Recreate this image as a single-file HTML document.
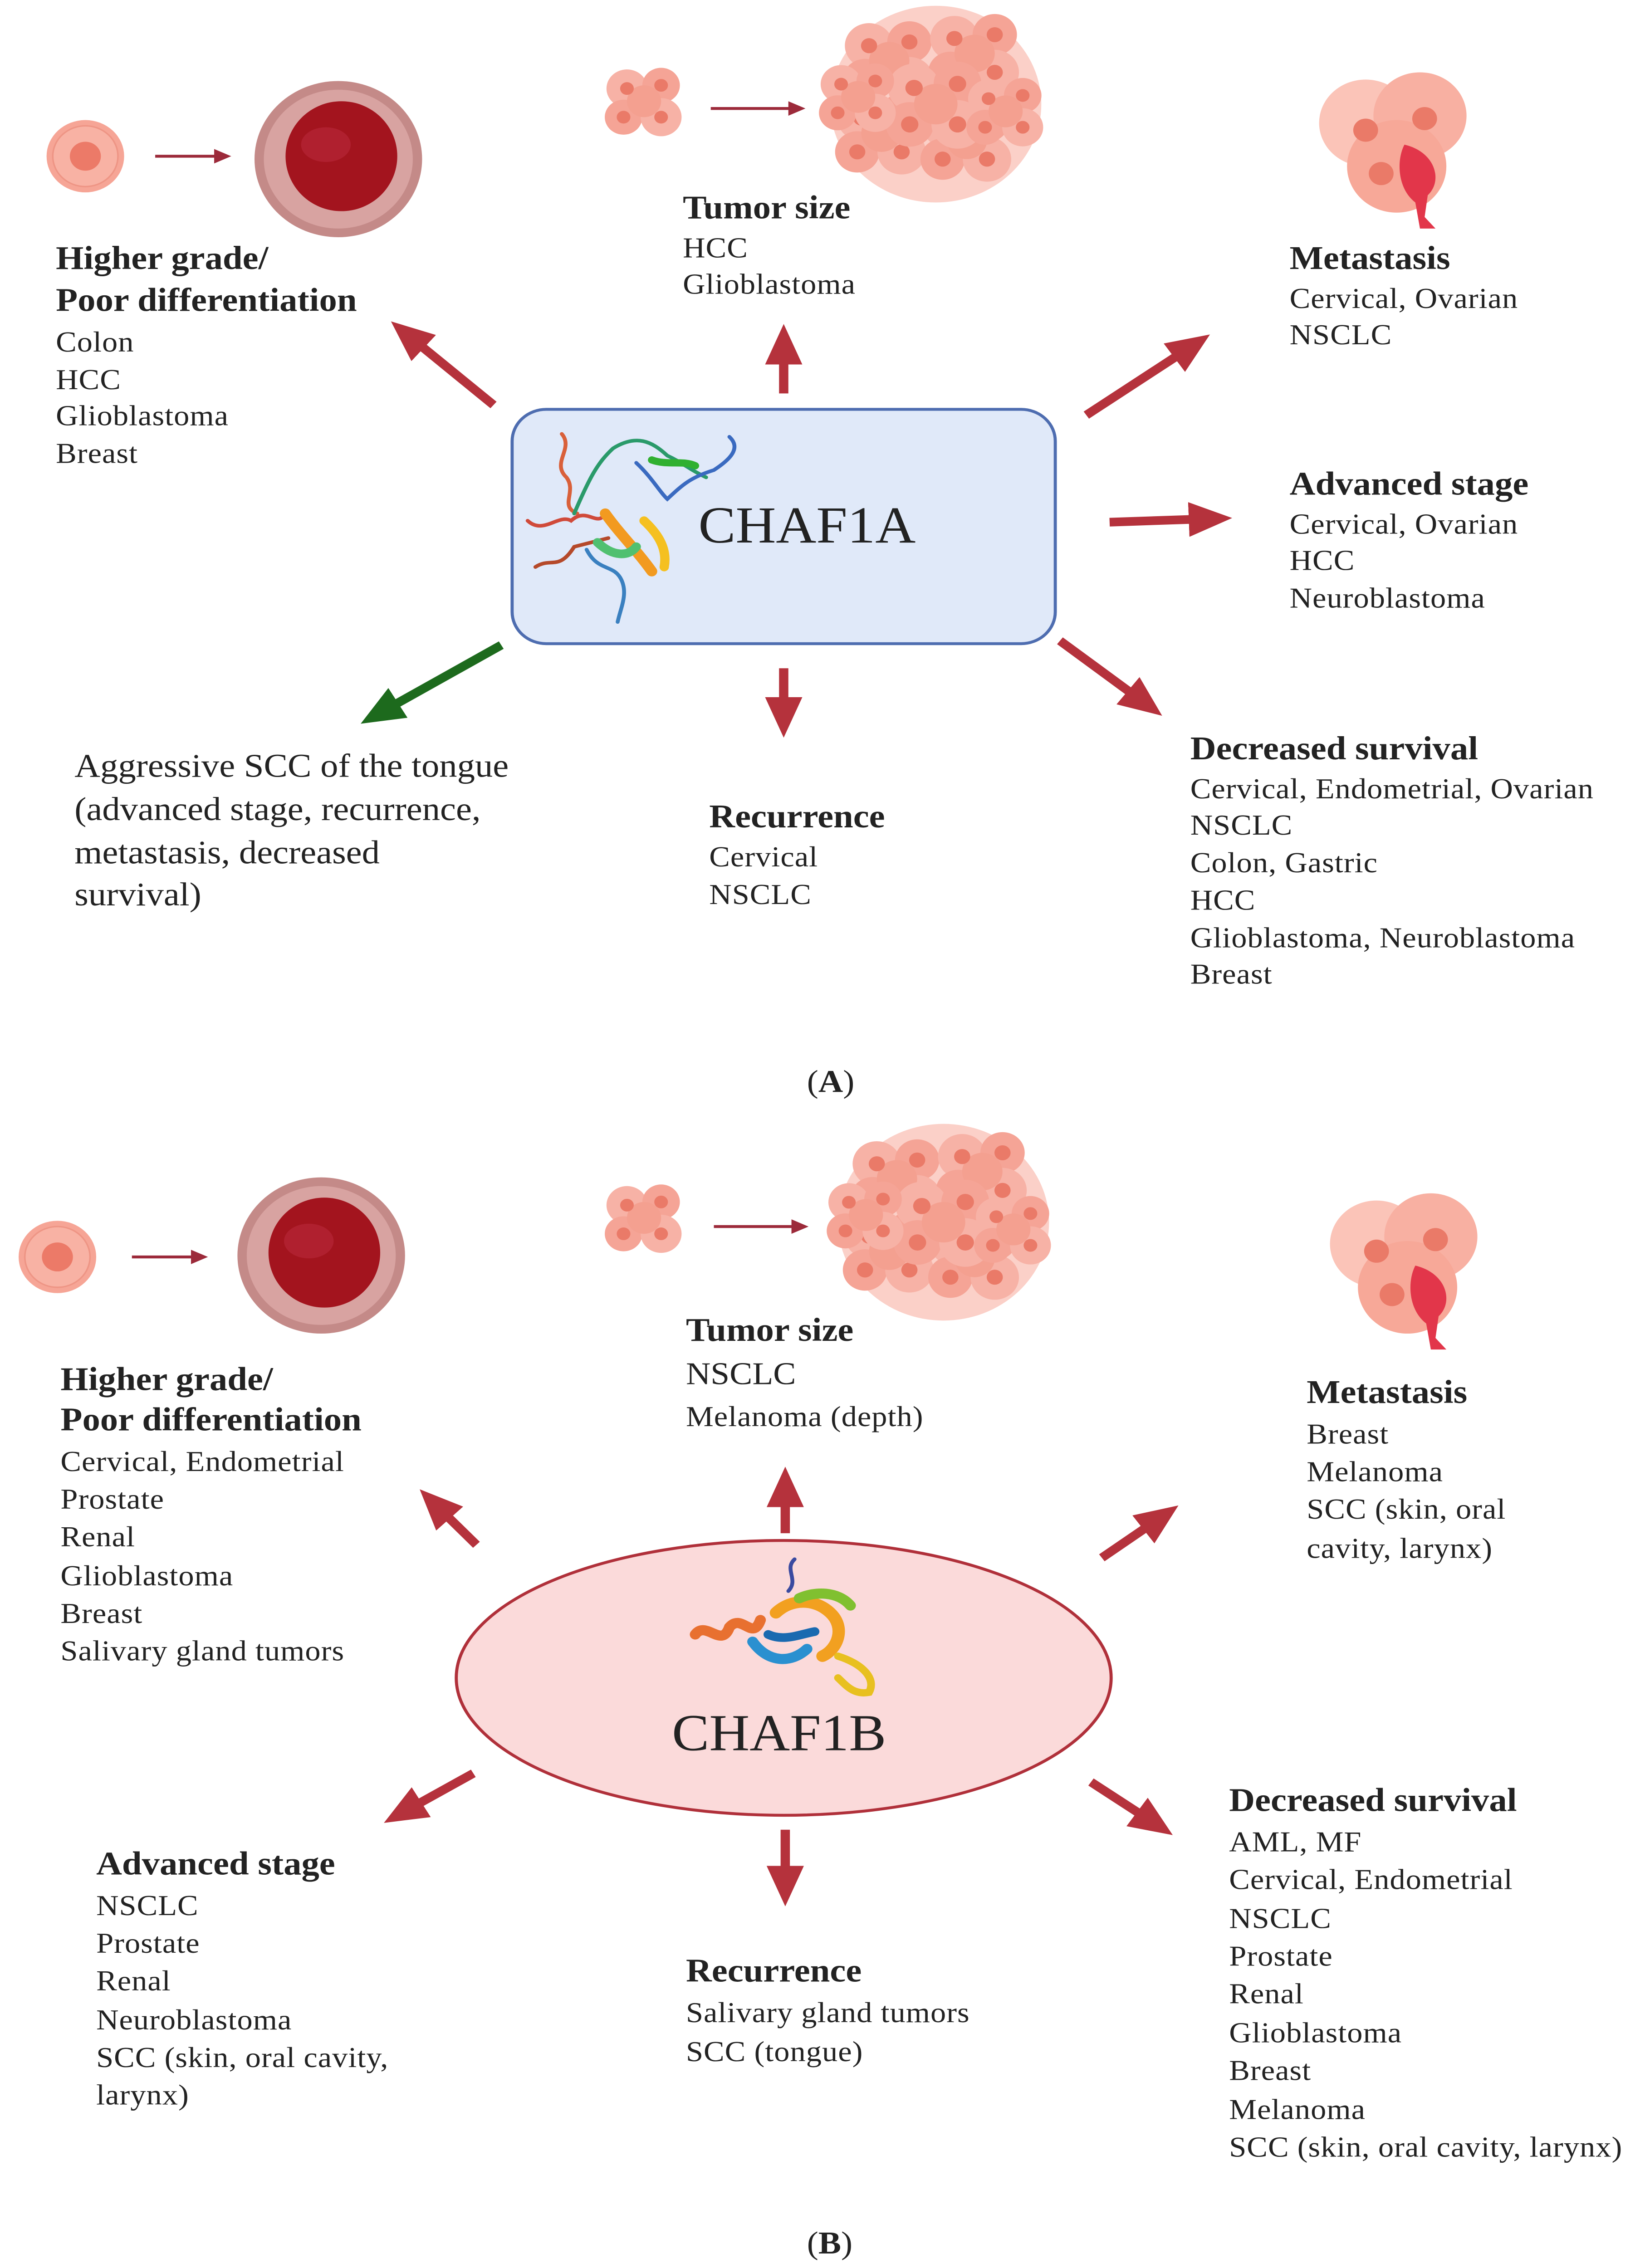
<!DOCTYPE html>
<html><head><meta charset="utf-8"><style>
html,body{margin:0;padding:0;background:#fff;width:100%;height:100%;overflow:hidden}
svg{display:block;width:100vw;height:100vh}
text{font-family:"Liberation Serif","DejaVu Serif",serif;fill:#222}
.h{font-weight:bold;font-size:23px}
.t{font-size:20px;letter-spacing:0.3px}
</style></head><body>
<svg viewBox="0 0 1060 1568" preserveAspectRatio="none" xmlns="http://www.w3.org/2000/svg">
<defs>
<marker id="ar" markerUnits="userSpaceOnUse" markerWidth="30" markerHeight="30" refX="4" refY="15" orient="auto"><path d="M0,3 L28,15 L0,27 Z" fill="#b5323c"/></marker>
<marker id="ag" markerUnits="userSpaceOnUse" markerWidth="30" markerHeight="30" refX="4" refY="15" orient="auto"><path d="M0,3 L28,15 L0,27 Z" fill="#1d6a1d"/></marker>
<marker id="at" markerUnits="userSpaceOnUse" markerWidth="12" markerHeight="12" refX="2" refY="6" orient="auto"><path d="M0,1 L11,6 L0,11 Z" fill="#9c2a3a"/></marker>
<g id="small"><circle r="25" fill="#f6a596"/><circle r="21" fill="#f8b2a4" stroke="#ee9585" stroke-width="1"/><circle r="10" fill="#ec7a68"/></g>
<g id="big"><circle r="54" fill="#c48a88"/><circle r="48" fill="#d8a3a1"/><ellipse cx="2" cy="-2" rx="36" ry="38" fill="#a3141e"/><ellipse cx="-8" cy="-10" rx="16" ry="12" fill="#b9283a" opacity=".6"/></g>
<g id="cl"><circle cx="-10" cy="-8" r="12" fill="#f7b2a6"/><circle cx="10" cy="-10" r="11" fill="#f5a496"/><circle cx="-12" cy="10" r="11" fill="#f5a496"/><circle cx="10" cy="10" r="12" fill="#f7b2a6"/><circle cx="0" cy="0" r="10" fill="#f4a090"/><circle cx="-10" cy="-8" r="4" fill="#ea7a68"/><circle cx="10" cy="-10" r="4" fill="#ea7a68"/><circle cx="-12" cy="10" r="4" fill="#ea7a68"/><circle cx="10" cy="10" r="4" fill="#ea7a68"/></g>
<g id="bcl"><circle r="68" fill="#fbd0c8"/>
<use href="#cl" transform="translate(-30,-30) scale(1.3)"/><use href="#cl" transform="translate(25,-35) scale(1.3)"/><use href="#cl" transform="translate(-35,20) scale(1.3)"/><use href="#cl" transform="translate(20,25) scale(1.3)"/><use href="#cl" transform="translate(0,0) scale(1.4)"/><use href="#cl" transform="translate(45,5) scale(1.1)"/><use href="#cl" transform="translate(-50,-5) scale(1.1)"/></g>
<g id="met"><circle cx="-20" cy="-15" r="30" fill="#fbc4b8"/><circle cx="15" cy="-20" r="30" fill="#f8b0a2"/><circle cx="0" cy="15" r="32" fill="#f7a898"/>
<circle cx="-20" cy="-10" r="8" fill="#ea7a68"/><circle cx="18" cy="-18" r="8" fill="#ea7a68"/><circle cx="-10" cy="20" r="8" fill="#ea7a68"/>
<path d="M5,0 C25,5 30,25 20,35 L18,50 L25,58 L15,58 L12,40 C0,30 0,10 5,0Z" fill="#e2364a"/></g>
</defs>

<!-- PANEL A -->
<use href="#small" x="55" y="108"/>
<line x1="100" y1="108" x2="140" y2="108" stroke="#9c2a3a" stroke-width="2" marker-end="url(#at)"/>
<use href="#big" x="218" y="110"/>
<use href="#cl" transform="translate(415,70) scale(1.1)"/>
<line x1="458" y1="75" x2="510" y2="75" stroke="#9c2a3a" stroke-width="2" marker-end="url(#at)"/>
<use href="#bcl" x="603" y="72"/>
<use href="#met" x="900" y="100"/>

<text class="h" x="36" y="186">Higher grade/</text>
<text class="h" x="36" y="215">Poor differentiation</text>
<text class="t" x="36" y="243">Colon</text><text class="t" x="36" y="269">HCC</text><text class="t" x="36" y="294">Glioblastoma</text><text class="t" x="36" y="320">Breast</text>

<text class="h" x="440" y="151">Tumor size</text>
<text class="t" x="440" y="178">HCC</text><text class="t" x="440" y="203">Glioblastoma</text>

<text class="h" x="831" y="186">Metastasis</text>
<text class="t" x="831" y="213">Cervical, Ovarian</text><text class="t" x="831" y="238">NSCLC</text>

<text class="h" x="831" y="342">Advanced stage</text>
<text class="t" x="831" y="369">Cervical, Ovarian</text><text class="t" x="831" y="394">HCC</text><text class="t" x="831" y="420">Neuroblastoma</text>

<rect x="330" y="283" width="350" height="162" rx="22" fill="#e0e9f9" stroke="#4e6db0" stroke-width="2"/>
<g fill="none" stroke-width="2.5" stroke-linecap="round">
<path d="M362,300 C370,310 355,320 365,330 C372,340 360,350 372,355" stroke="#d9603a"/>
<path d="M340,360 C350,370 360,355 368,360 C378,350 385,365 390,355" stroke="#d04a3a"/>
<path d="M345,392 C355,385 360,395 370,378 L392,372" stroke="#b5492a"/>
<path d="M370,355 C380,330 385,320 395,310 C410,300 420,305 430,315 C440,320 445,325 455,330" stroke="#2a9a6a"/>
<path d="M410,320 C420,330 425,340 430,345 C440,335 445,330 460,325 C470,318 478,310 470,302" stroke="#3a6ac0"/>
<path d="M378,380 C385,395 395,390 400,400 C405,410 400,420 398,430" stroke="#3a80c0"/>
<path d="M390,355 C400,370 410,380 420,395" stroke="#f29a20" stroke-width="7"/>
<path d="M415,360 C425,370 430,380 428,392" stroke="#f5c020" stroke-width="6"/>
<path d="M385,375 C395,385 405,385 410,378" stroke="#50c070" stroke-width="6"/>
<path d="M420,318 C430,322 440,318 448,322" stroke="#30b030" stroke-width="5"/>
</g>
<text x="450" y="375" style="font-size:36px" fill="#111">CHAF1A</text>

<g stroke="#b5323c" stroke-width="6" fill="none">
<line x1="505" y1="272" x2="505" y2="248" marker-end="url(#ar)"/>
<line x1="318" y1="280" x2="270" y2="238" marker-end="url(#ar)"/>
<line x1="700" y1="287" x2="760" y2="245" marker-end="url(#ar)"/>
<line x1="715" y1="361" x2="770" y2="359" marker-end="url(#ar)"/>
<line x1="505" y1="462" x2="505" y2="486" marker-end="url(#ar)"/>
<line x1="683" y1="443" x2="730" y2="480" marker-end="url(#ar)"/>
</g>
<line x1="323" y1="446" x2="253" y2="488" stroke="#1d6a1d" stroke-width="6" marker-end="url(#ag)"/>

<g style="font-size:23px">
<text x="48" y="537">Aggressive SCC of the tongue</text>
<text x="48" y="567">(advanced stage, recurrence,</text>
<text x="48" y="597">metastasis, decreased</text>
<text x="48" y="626">survival)</text></g>

<text class="h" x="457" y="572">Recurrence</text>
<text class="t" x="457" y="599">Cervical</text><text class="t" x="457" y="625">NSCLC</text>

<text class="h" x="767" y="525">Decreased survival</text>
<text class="t" x="767" y="552">Cervical, Endometrial, Ovarian</text><text class="t" x="767" y="577">NSCLC</text><text class="t" x="767" y="603">Colon, Gastric</text><text class="t" x="767" y="629">HCC</text><text class="t" x="767" y="655">Glioblastoma, Neuroblastoma</text><text class="t" x="767" y="680">Breast</text>

<text x="520" y="755" style="font-size:22px">(<tspan font-weight="bold">A</tspan>)</text>

<!-- PANEL B -->
<use href="#small" x="37" y="869"/>
<line x1="85" y1="869" x2="125" y2="869" stroke="#9c2a3a" stroke-width="2" marker-end="url(#at)"/>
<use href="#big" x="207" y="868"/>
<use href="#cl" transform="translate(415,842) scale(1.1)"/>
<line x1="460" y1="848" x2="512" y2="848" stroke="#9c2a3a" stroke-width="2" marker-end="url(#at)"/>
<use href="#bcl" x="608" y="845"/>
<use href="#met" x="907" y="875"/>

<text class="h" x="442" y="927">Tumor size</text>
<text x="442" y="957" style="font-size:22px">NSCLC</text><text class="t" x="442" y="986">Melanoma (depth)</text>

<text class="h" x="39" y="961">Higher grade/</text>
<text class="h" x="39" y="989">Poor differentiation</text>
<text class="t" x="39" y="1017">Cervical, Endometrial</text><text class="t" x="39" y="1043">Prostate</text><text class="t" x="39" y="1069">Renal</text><text class="t" x="39" y="1096">Glioblastoma</text><text class="t" x="39" y="1122">Breast</text><text class="t" x="39" y="1148">Salivary gland tumors</text>

<text class="h" x="842" y="970">Metastasis</text>
<text class="t" x="842" y="998">Breast</text><text class="t" x="842" y="1024">Melanoma</text><text class="t" x="842" y="1050">SCC (skin, oral</text><text class="t" x="842" y="1077">cavity, larynx)</text>

<ellipse cx="505" cy="1160" rx="211" ry="95" fill="#fbdada" stroke="#b0303a" stroke-width="2"/>
<g fill="none" stroke-linecap="round">
<path d="M512,1078 C505,1085 515,1092 508,1100" stroke="#3a4aa0" stroke-width="2.5"/>
<path d="M448,1130 C455,1120 465,1140 470,1125 C478,1115 485,1135 490,1120" stroke="#e87030" stroke-width="7"/>
<path d="M500,1115 C510,1105 525,1105 535,1115 C545,1125 540,1140 530,1145" stroke="#f2a020" stroke-width="8"/>
<path d="M485,1135 C495,1150 510,1150 520,1140" stroke="#2a90d0" stroke-width="7"/>
<path d="M515,1105 C525,1100 540,1100 548,1110" stroke="#80c030" stroke-width="7"/>
<path d="M540,1145 C555,1150 565,1160 560,1170 C550,1172 545,1165 540,1160" stroke="#e8c020" stroke-width="5"/>
<path d="M495,1130 C505,1135 515,1130 525,1128" stroke="#1a6ab0" stroke-width="6"/>
</g>
<text x="433" y="1210" style="font-size:36px" fill="#111">CHAF1B</text>

<g stroke="#b5323c" stroke-width="6" fill="none">
<line x1="506" y1="1060" x2="506" y2="1038" marker-end="url(#ar)"/>
<line x1="307" y1="1068" x2="287" y2="1047" marker-end="url(#ar)"/>
<line x1="710" y1="1077" x2="740" y2="1055" marker-end="url(#ar)"/>
<line x1="305" y1="1226" x2="268" y2="1248" marker-end="url(#ar)"/>
<line x1="506" y1="1265" x2="506" y2="1294" marker-end="url(#ar)"/>
<line x1="703" y1="1232" x2="736" y2="1255" marker-end="url(#ar)"/>
</g>

<text class="h" x="62" y="1296">Advanced stage</text>
<text class="t" x="62" y="1324">NSCLC</text><text class="t" x="62" y="1350">Prostate</text><text class="t" x="62" y="1376">Renal</text><text class="t" x="62" y="1403">Neuroblastoma</text><text class="t" x="62" y="1429">SCC (skin, oral cavity,</text><text class="t" x="62" y="1455">larynx)</text>

<text class="h" x="442" y="1370">Recurrence</text>
<text class="t" x="442" y="1398">Salivary gland tumors</text><text class="t" x="442" y="1425">SCC (tongue)</text>

<text class="h" x="792" y="1252">Decreased survival</text>
<text class="t" x="792" y="1280">AML, MF</text><text class="t" x="792" y="1306">Cervical, Endometrial</text><text class="t" x="792" y="1333">NSCLC</text><text class="t" x="792" y="1359">Prostate</text><text class="t" x="792" y="1385">Renal</text><text class="t" x="792" y="1412">Glioblastoma</text><text class="t" x="792" y="1438">Breast</text><text class="t" x="792" y="1465">Melanoma</text><text class="t" x="792" y="1491">SCC (skin, oral cavity, larynx)</text>

<text x="520" y="1558" style="font-size:22px">(<tspan font-weight="bold">B</tspan>)</text>
</svg>
</body></html>
